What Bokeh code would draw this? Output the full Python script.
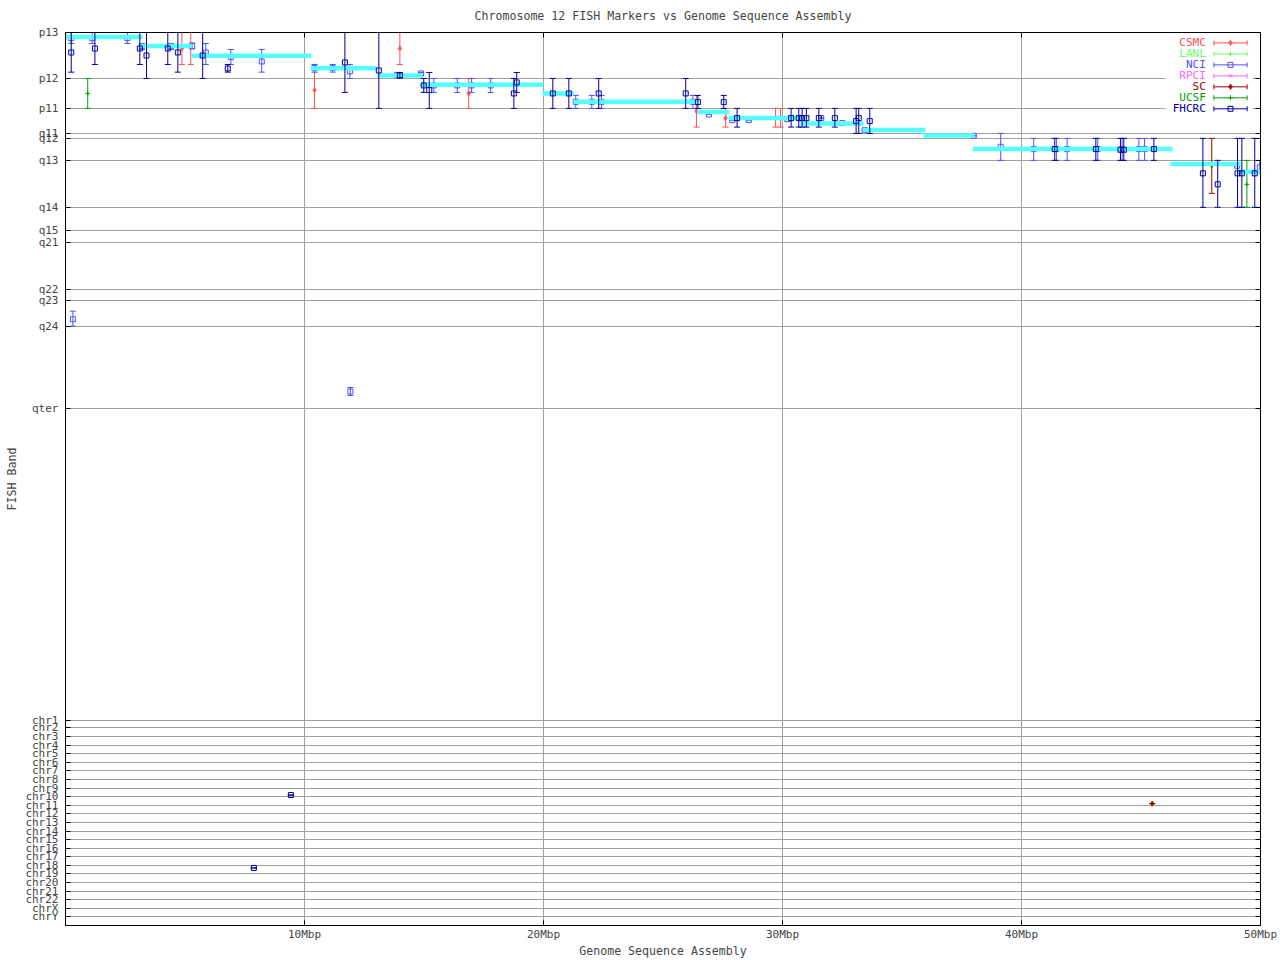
import math
from bokeh.plotting import figure
from bokeh.models import Range1d, FixedTicker, LinearAxis, CustomJSTickFormatter
from bokeh.embed import file_html
from bokeh.resources import INLINE
from bokeh.core.properties import value

TITLE = "Chromosome 12 FISH Markers vs Genome Sequence Assembly"
X_TITLE = "Genome Sequence Assembly"
Y_TITLE = "FISH Band"
FONT = "DejaVu Sans Mono"

# ---- axes (y is a linear band scale, p13 at top) ----
band_labels = ["p13", "p12", "p11", "q11", "q12", "q13", "q14", "q15", "q21", "q22", "q23", "q24", "qter"]
band_pos = [0, 46, 76, 101, 105.7, 128, 175, 198, 210, 257, 268, 294, 376]
chr_labels = ["chr1", "chr2", "chr3", "chr4", "chr5", "chr6", "chr7", "chr8", "chr9", "chr10", "chr11", "chr12",
              "chr13", "chr14", "chr15", "chr16", "chr17", "chr18", "chr19", "chr20", "chr21", "chr22", "chrX", "chrY"]
chr_pos = [688.4, 696.0, 705.0, 713.4, 721.7, 730.7, 739.0, 747.7, 756.4, 765.0, 774.0, 782.0,
           791.0, 799.4, 808.0, 817.0, 825.0, 834.0, 842.0, 851.0, 860.0, 868.0, 877.0, 885.4]
x_tick_pos = [10, 20, 30, 40, 50]
x_tick_labels = ["10Mbp", "20Mbp", "30Mbp", "40Mbp", "50Mbp"]
X_MIN, X_MAX = 0, 50
Y_TOP, Y_BOTTOM = 0, 894

# ---- sequence assembly (cyan steps): start Mbp, end Mbp, band position ----
asm_start = [0.0, 3.14, 5.27, 10.25, 13.05, 14.85, 19.96, 21.26, 26.44, 27.74, 30.75, 33.35, 35.90, 37.95, 46.23, 49.08]
asm_end = [3.22, 5.31, 10.29, 13.01, 14.94, 20.0, 21.26, 26.49, 27.78, 30.75, 33.39, 35.98, 38.03, 46.32, 49.16, 50.1]
asm_band = [4.4, 13.4, 23.4, 35.7, 43.0, 52.4, 61.0, 69.4, 79.7, 85.7, 91.0, 97.7, 103.0, 116.7, 131.7, 139.4]

# ---- FISH markers per lab: x (Mbp), band, band range (top, bottom) ----
csmc_x = [4.87, 5.24, 10.42, 13.99, 16.87, 26.40, 27.62, 29.71, 29.92]
csmc_y = [16, 13.7, 57.7, 16, 61, 78.7, 85.7, 85.4, 85.4]
csmc_top = [0, 0, 32, 0, 46, 63, 76, 76, 76]
csmc_bot = [32, 32, 76, 32, 76, 94.7, 94.7, 94.7, 94.7]

lanl_x, lanl_y, lanl_top, lanl_bot = [], [], [], []

nci_x = [0.24, 1.12, 2.59, 3.20, 4.42, 5.30, 5.87, 6.92, 8.21, 10.42, 11.18, 11.90, 13.88, 14.88,
         15.41, 16.39, 16.99, 17.79, 21.35, 22.02, 22.43, 26.25, 26.92, 27.90, 28.59, 30.20, 31.62,
         32.50, 33.44, 38.00, 39.13, 40.51, 41.46, 41.91, 43.19, 44.21, 44.91, 45.15, 49.02, 49.97,
         0.31, 11.92]
nci_y = [5.7, 5.7, 5.7, 13.7, 13.7, 13.7, 20, 24.7, 29, 35.7, 35.7, 39, 43, 41,
         53, 53, 53, 53, 69.4, 69.4, 69.4, 69.4, 82, 87.7, 87.7, 86.7, 85.7,
         90.7, 97.7, 103.4, 114.4, 116.7, 116.7, 116.7, 116.7, 116.7, 116.7, 116.7, 133.4, 135,
         287, 359.4]
nci_top = [0, 0, 0, 11, 11, 10.4, 11, 17, 17, 32, 32, 32, 40, 40,
           46, 46, 46, 46, 63, 63, 63, 63, 82, 87.7, 87.7, 86.7, 85.7,
           90.7, 97.7, 103.4, 101, 106, 106, 106, 106, 106, 106, 106, 133.4, 128,
           279, 355.4]
nci_bot = [11, 11, 11, 17, 17, 16.4, 32, 32, 39.7, 39.7, 39.7, 46, 45.4, 43,
           60, 60, 60, 60, 76, 76, 76, 76, 82, 87.7, 87.7, 86.7, 85.7,
           90.7, 97.7, 103.4, 128, 128, 128, 128, 128, 128, 128, 128, 133.4, 140.7,
           294, 363.4]

rpci_x, rpci_y, rpci_top, rpci_bot = [], [], [], []

sc_x = [47.96, 45.47]
sc_y = [132.7, 772.0]
sc_top = [106, 772.0]
sc_bot = [161, 772.0]

ucsf_x = [0.93, 49.43]
ucsf_y = [61, 152]
ucsf_top = [46, 128]
ucsf_bot = [76, 175]

fhcrc_x = [0.24, 1.23, 3.11, 3.39, 4.28, 4.70, 5.74, 6.79, 11.69, 13.11, 13.99, 14.99, 15.22,
           18.76, 18.88, 20.39, 21.06, 22.31, 25.95, 26.46, 27.54, 28.10, 30.36, 30.68, 30.82,
           31.00, 31.52, 32.19, 33.08, 33.19, 33.65, 41.39, 43.11, 44.14, 44.28, 45.54, 47.59,
           48.21, 49.04, 49.22, 49.76, 9.43, 7.88]
fhcrc_y = [20, 16, 16, 23, 16, 20, 23, 36, 30, 38, 43, 53, 57.7,
           61, 50, 61, 61, 61, 61, 69.7, 69.7, 85.7, 85.7, 85.7, 85.7,
           85.7, 85.7, 85.7, 88.7, 85.7, 88.7, 116.7, 116.7, 117.4, 117.4, 116.7, 141,
           152, 141, 141, 141, 763.4, 836.4]
fhcrc_top = [0, 0, 0, 0, 0, 0, 0, 32, 0, 0, 40, 46, 40,
             46, 40, 46, 46, 46, 46, 63, 63, 76, 76, 76, 76,
             76, 76, 76, 76, 76, 76, 106, 106, 106, 106, 106, 106,
             128, 106, 106, 106, 763.4, 836.4]
fhcrc_bot = [39.7, 32, 32, 46, 32, 39.7, 46, 39.7, 60, 76, 45.4, 60, 76,
             76, 60, 76, 76, 76, 76, 76, 76, 94.7, 94.7, 94.7, 94.7,
             94.7, 94.7, 94.7, 101, 101, 101, 128, 128, 128, 128, 128, 175,
             175, 175, 175, 175, 763.4, 836.4]

legend_names = ["CSMC", "LANL", "NCI", "RPCI", "SC", "UCSF", "FHCRC"]
legend_colors = ["#ff5050", "#66ff66", "#5050ff", "#ff66ff", "#a00000", "#00a000", "#0000a0"]
legend_markers = ["diamond_cross", "cross", "square", "x", "diamond_cross", "cross", "square"]
ASM_COLOR = "#55ffff"
GRID = "#a0a0a0"


def lookup_formatter(positions, labels):
    return CustomJSTickFormatter(args=dict(pos=list(positions), lab=list(labels)), code="""
        let best = -1, bd = Infinity;
        for (let i = 0; i < pos.length; i++) {
            const d = Math.abs(pos[i] - tick);
            if (d < bd) { bd = d; best = i; }
        }
        return (best >= 0 && bd < 1e-3) ? lab[best] : "";
    """)


y_ticks = band_pos + chr_pos
y_labels = band_labels + chr_labels

p = figure(width=1280, height=960, x_range=Range1d(X_MIN, X_MAX), y_range=Range1d(Y_BOTTOM, Y_TOP),
           output_backend="svg", toolbar_location=None, title=TITLE,
           min_border_left=65, min_border_right=20, min_border_top=32, min_border_bottom=34)
p.outline_line_color = "black"
p.title.align = "center"
p.title.vertical_align = "top"
p.title.text_font = FONT
p.title.text_font_size = "11.6px"
p.title.text_font_style = "normal"
p.title.standoff = 16

xax = p.xaxis[0]
xax.ticker = FixedTicker(ticks=x_tick_pos)
xax.formatter = lookup_formatter(x_tick_pos, x_tick_labels)
xax.axis_label = X_TITLE
yax = p.yaxis[0]
yax.ticker = FixedTicker(ticks=y_ticks)
yax.formatter = lookup_formatter(y_ticks, y_labels)
yax.axis_label = Y_TITLE
for ax in (xax, yax):
    ax.major_tick_in = 5
    ax.major_tick_out = 0
    ax.minor_tick_line_color = None
    ax.axis_line_color = "black"
    ax.major_tick_line_color = "black"
    ax.major_label_text_font = FONT
    ax.major_label_text_font_size = "11px"
    ax.axis_label_text_font = FONT
    ax.axis_label_text_font_size = "11.6px"
    ax.axis_label_text_font_style = "normal"
xax.major_label_standoff = 2
xax.axis_label_standoff = 0
yax.major_label_standoff = 7
yax.axis_label_standoff = 3

# mirror ticks on top and right
top_ax = LinearAxis(ticker=FixedTicker(ticks=x_tick_pos), major_tick_in=5, major_tick_out=0,
                    minor_tick_line_color=None, major_label_text_font_size="0px", major_label_standoff=0,
                    formatter=lookup_formatter([], []))
right_ax = LinearAxis(ticker=FixedTicker(ticks=y_ticks), major_tick_in=5, major_tick_out=0,
                      minor_tick_line_color=None, major_label_text_font_size="0px", major_label_standoff=0,
                      formatter=lookup_formatter([], []))
p.add_layout(top_ax, "above")
p.add_layout(right_ax, "right")

p.xgrid.ticker = FixedTicker(ticks=x_tick_pos)
p.ygrid.ticker = FixedTicker(ticks=y_ticks)
p.xgrid.grid_line_color = GRID
p.ygrid.grid_line_color = GRID

# key area (hides grid lines behind the key)
key_left, key_right, key_top, key_bottom = 46.03, 49.67, 3.5, 82
p.quad(left=[key_left], right=[key_right], top=[key_top], bottom=[key_bottom],
       fill_color="white", line_color=None)


def draw_series(xs, ys, tops, bots, color, marker):
    if not xs:
        return
    p.segment(x0=xs, y0=tops, x1=xs, y1=bots, line_color=color, line_width=1)
    p.scatter(xs, tops, marker="dash", size=6, line_color=color)
    p.scatter(xs, bots, marker="dash", size=6, line_color=color)
    p.scatter(xs, ys, marker=marker, size=5, line_color=color, fill_color=None)


draw_series(csmc_x, csmc_y, csmc_top, csmc_bot, legend_colors[0], legend_markers[0])
draw_series(lanl_x, lanl_y, lanl_top, lanl_bot, legend_colors[1], legend_markers[1])
draw_series(nci_x, nci_y, nci_top, nci_bot, legend_colors[2], legend_markers[2])
draw_series(rpci_x, rpci_y, rpci_top, rpci_bot, legend_colors[3], legend_markers[3])
draw_series(sc_x, sc_y, sc_top, sc_bot, legend_colors[4], legend_markers[4])
draw_series(ucsf_x, ucsf_y, ucsf_top, ucsf_bot, legend_colors[5], legend_markers[5])
p.segment(x0=asm_start, y0=asm_band, x1=asm_end, y1=asm_band, line_color=ASM_COLOR, line_width=4.5)
draw_series(fhcrc_x, fhcrc_y, fhcrc_top, fhcrc_bot, legend_colors[6], legend_markers[6])

# key (text on the left, sample on the right, gnuplot style)
key_text_x, key_line_x0, key_line_x1 = 47.71, 48.05, 49.44
key_row0, key_step = 10.4, 11.0
rows = [key_row0 + key_step * i for i in range(len(legend_names))]
n = len(rows)
p.text(x=[key_text_x] * n, y=rows, text=legend_names, text_color=legend_colors,
       text_align="right", text_baseline="middle", text_font=value(FONT), text_font_size="11px")
p.segment(x0=[key_line_x0] * n, x1=[key_line_x1] * n, y0=rows, y1=rows, line_color=legend_colors)
p.scatter([key_line_x0] * n, rows, marker="dash", angle=math.pi / 2, size=5, line_color=legend_colors)
p.scatter([key_line_x1] * n, rows, marker="dash", angle=math.pi / 2, size=5, line_color=legend_colors)
p.scatter([(key_line_x0 + key_line_x1) / 2] * n, rows, marker=legend_markers, size=5,
          line_color=legend_colors, fill_color=None)

open("out.html", "w").write(file_html(p, INLINE))
